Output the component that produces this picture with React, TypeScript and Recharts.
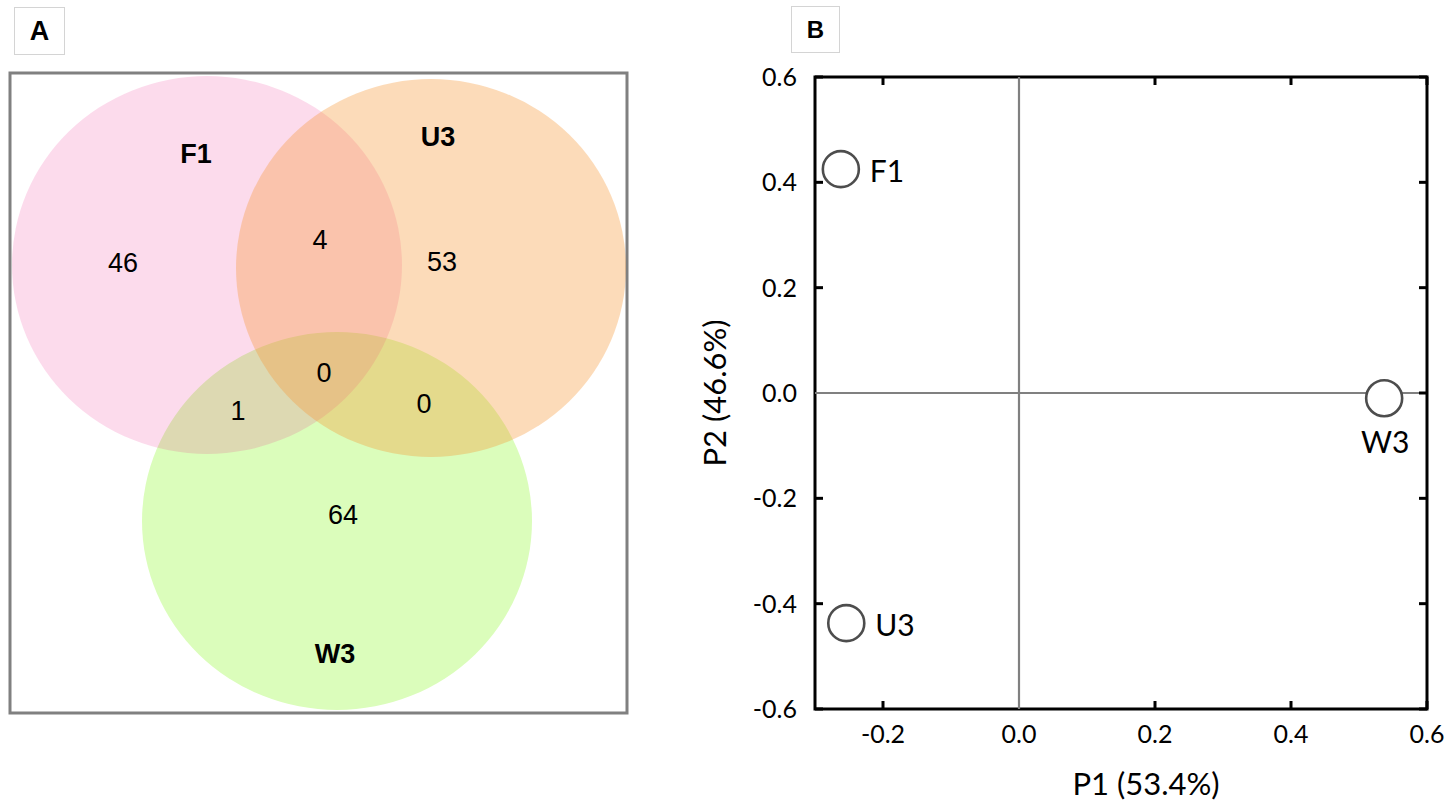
import {
  ScatterChart,
  Scatter,
  XAxis,
  YAxis,
  ReferenceArea,
  ReferenceLine,
} from 'recharts'

// Panel A: Venn diagram (shared taxa between samples), drawn bottom circle first
const vennSets = [
  { name: 'W3', x: 327, y: 192, rx: 195, ry: 189 },
  { name: 'F1', x: 197, y: 448, rx: 195, ry: 189 },
  { name: 'U3', x: 421, y: 445, rx: 195, ry: 189 },
]
const vennSetLabels = [
  { name: 'F1', x: 186, y: 559 },
  { name: 'U3', x: 428, y: 576 },
  { name: 'W3', x: 325, y: 59 },
]
const vennCounts = [
  { label: '46', x: 113, y: 450 },
  { label: '4', x: 310, y: 473 },
  { label: '53', x: 432, y: 451 },
  { label: '0', x: 314, y: 340 },
  { label: '1', x: 228, y: 302 },
  { label: '0', x: 414, y: 309 },
  { label: '64', x: 333, y: 198 },
]
const vennFill: Record<string, { color: string; opacity: number }> = {
  W3: { color: '#DBFDBB', opacity: 1 },
  F1: { color: 'rgb(235,15,128)', opacity: 0.15 },
  U3: { color: 'rgb(246,152,55)', opacity: 0.35 },
}

// Panel B: PCoA ordination
const pcoaPoints = [
  { name: 'F1', x: -0.262, y: 0.425 },
  { name: 'U3', x: -0.254, y: -0.437 },
  { name: 'W3', x: 0.537, y: -0.01 },
]
const xTicks = [-0.2, 0, 0.2, 0.4, 0.6]
const yTicks = [-0.6, -0.4, -0.2, 0, 0.2, 0.4, 0.6]

const VENN_X_MAX = 617
const VENN_Y_MAX = 640
const VENN_PLOT_W = 617
const VENN_PLOT_H = 640
const SX = VENN_PLOT_W / VENN_X_MAX
const SY = VENN_PLOT_H / VENN_Y_MAX

// layout of panel B (chart coordinates)
const B_W = 762
const B_H = 807
const B_TOP = 77
const B_LEFT = 125
const B_RIGHT_GAP = 25
const B_XAXIS_H = 98
const PLOT_TOP = B_TOP
const PLOT_BOTTOM = B_H - B_XAXIS_H
const PLOT_LEFT = B_LEFT
const PLOT_RIGHT = B_W - B_RIGHT_GAP
const TICK_LEN = 8

const arial = '"Liberation Sans", Arial, sans-serif'
const lato = 'Lato, "Open Sans", sans-serif'

const fmt = (v: number) => v.toFixed(1)

function VennCircle(props: any) {
  const { cx, cy, payload } = props
  const f = vennFill[payload.name]
  return (
    <ellipse
      cx={cx}
      cy={cy}
      rx={payload.rx * SX}
      ry={payload.ry * SY}
      fill={f.color}
      fillOpacity={f.opacity}
    />
  )
}

function VennText(bold: boolean) {
  return (props: any) => (
    <text
      x={props.cx}
      y={props.cy}
      textAnchor="middle"
      dominantBaseline="central"
      fontFamily={arial}
      fontSize={27}
      fontWeight={bold ? 'bold' : 'normal'}
      fill="#000"
    >
      {props.payload.name ?? props.payload.label}
    </text>
  )
}

function PcoaPoint(props: any) {
  const { cx, cy, payload } = props
  const below = payload.name === 'W3'
  return (
    <g>
      <circle cx={cx} cy={cy} r={18} fill="#fff" stroke="#4d4d4d" strokeWidth={2.6} />
      <text
        x={below ? cx + 1 : cx + 29}
        y={below ? cy + 43 : cy + 1}
        textAnchor={below ? 'middle' : 'start'}
        dominantBaseline="central"
        fontFamily={lato}
        fontSize={30}
        fill="#000"
      >
        {payload.name}
      </text>
    </g>
  )
}

function BottomTick(props: any) {
  const { x, payload } = props
  const v = payload.value
  return (
    <g>
      {v !== 0 && (
        <>
          <line x1={x} x2={x} y1={PLOT_BOTTOM} y2={PLOT_BOTTOM - TICK_LEN} stroke="#000" strokeWidth={3} />
          <line x1={x} x2={x} y1={PLOT_TOP} y2={PLOT_TOP + TICK_LEN} stroke="#000" strokeWidth={3} />
        </>
      )}
      <text x={x} y={PLOT_BOTTOM + 34} textAnchor="middle" fontFamily={lato} fontSize={25} fill="#000">
        {fmt(v)}
      </text>
    </g>
  )
}

function LeftTick(props: any) {
  const { y, payload } = props
  const v = payload.value
  return (
    <g>
      {v !== 0 && (
        <line x1={PLOT_LEFT} x2={PLOT_LEFT + TICK_LEN} y1={y} y2={y} stroke="#000" strokeWidth={3} />
      )}
      <line x1={PLOT_RIGHT} x2={PLOT_RIGHT - TICK_LEN} y1={y} y2={y} stroke="#000" strokeWidth={3} />
      <text x={PLOT_LEFT - 18} y={y + 9} textAnchor="end" fontFamily={lato} fontSize={25} fill="#000">
        {fmt(v)}
      </text>
    </g>
  )
}

const boxStyle = (left: number, top: number, w: number, h: number, size: number) => ({
  position: 'absolute' as const,
  left,
  top,
  width: w,
  height: h,
  border: '1px solid #d4d4d4',
  boxSizing: 'border-box' as const,
  display: 'flex',
  alignItems: 'center',
  justifyContent: 'center',
  fontFamily: arial,
  fontWeight: 'bold' as const,
  fontSize: size,
  color: '#000',
})

export default function App() {
  return (
    <div style={{ position: 'absolute', left: 0, top: 0, width: 1452, height: 807, background: '#fff' }}>
      <div style={boxStyle(14, 7, 51, 48, 27)}>A</div>
      <div style={boxStyle(791, 6, 49, 47, 24)}>B</div>

      <div style={{ position: 'absolute', left: 0, top: 0 }}>
        <ScatterChart width={640} height={740} margin={{ top: 73, left: 10, right: 13, bottom: 27 }}>
          <XAxis type="number" dataKey="x" domain={[0, VENN_X_MAX]} allowDataOverflow hide />
          <YAxis type="number" dataKey="y" domain={[0, VENN_Y_MAX]} allowDataOverflow hide />
          <Scatter data={vennSets} shape={VennCircle} isAnimationActive={false} />
          <Scatter data={vennSetLabels} shape={VennText(true)} isAnimationActive={false} />
          <Scatter data={vennCounts} shape={VennText(false)} isAnimationActive={false} />
          <ReferenceArea
            x1={0}
            x2={VENN_X_MAX}
            y1={0}
            y2={VENN_Y_MAX}
            fill="none"
            fillOpacity={0}
            stroke="#808080"
            strokeWidth={3}
            ifOverflow="visible"
          />
        </ScatterChart>
      </div>

      <div style={{ position: 'absolute', left: 690, top: 0 }}>
        <ScatterChart width={B_W} height={B_H} margin={{ top: B_TOP, right: B_RIGHT_GAP, bottom: 0, left: 0 }}>
          <XAxis
            type="number"
            dataKey="x"
            domain={[-0.3, 0.6]}
            ticks={xTicks}
            allowDataOverflow
            height={B_XAXIS_H}
            axisLine={false}
            tickLine={false}
            tick={BottomTick}
            label={{
              value: 'P1 (53.4%)',
              position: 'insideBottom',
              offset: 12,
              dx: 25,
              fill: '#000',
              fontSize: 31,
              fontFamily: lato,
            }}
          />
          <YAxis
            type="number"
            dataKey="y"
            domain={[-0.6, 0.6]}
            ticks={yTicks}
            allowDataOverflow
            width={B_LEFT}
            axisLine={false}
            tickLine={false}
            tick={LeftTick}
            label={{
              value: 'P2 (46.6%)',
              angle: -90,
              position: 'insideLeft',
              offset: 25,
              fill: '#000',
              fontSize: 31,
              fontFamily: lato,
              style: { textAnchor: 'middle' },
            }}
          />
          <ReferenceLine x={0} stroke="#808080" strokeWidth={2.2} />
          <ReferenceLine y={0} stroke="#808080" strokeWidth={2.2} />
          <ReferenceArea
            x1={-0.3}
            x2={0.6}
            y1={-0.6}
            y2={0.6}
            fill="none"
            fillOpacity={0}
            stroke="#000"
            strokeWidth={3}
            ifOverflow="visible"
          />
          <Scatter data={pcoaPoints} shape={PcoaPoint} isAnimationActive={false} />
        </ScatterChart>
      </div>
    </div>
  )
}
